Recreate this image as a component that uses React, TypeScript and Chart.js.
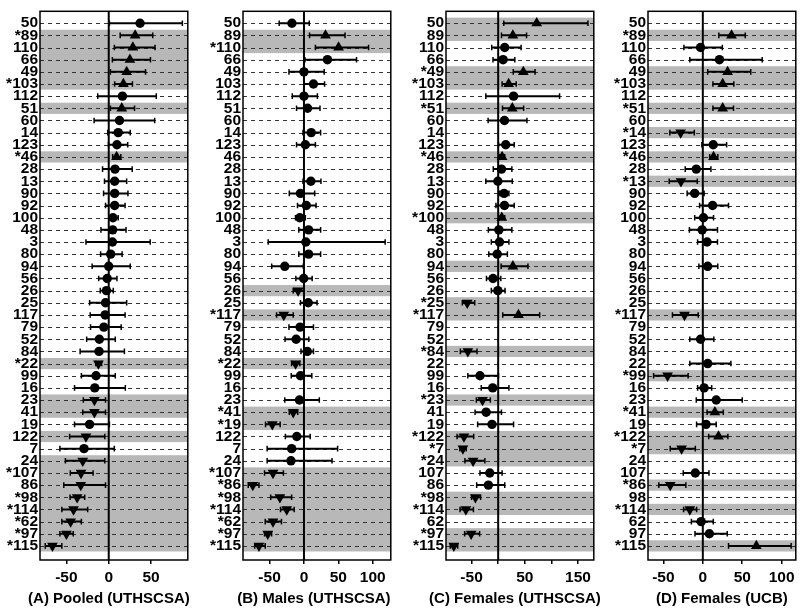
import React, { useEffect, useRef } from "react";
import { Chart, registerables } from "chart.js";
Chart.register(...registerables);

const categories = ["50","89","110","66","49","103","112","51","60","14","123","46","28","13","90","92","100","48","3","80","94","56","26","25","117","79","52","84","22","99","16","23","41","19","122","7","24","107","86","98","114","62","97","115"];

// (A) Pooled (UTHSCSA)
const pooledEst = [37,31.2,28.5,25,21.2,17.3,16.2,15.4,12.7,11.2,9.7,9.3,7.4,7,7,7,5,4.6,4.3,2.3,0,-1.8,-2.7,-3.8,-4.2,-5.8,-11.1,-11.5,-12.2,-15,-16.5,-16.9,-16.9,-22.6,-26.9,-29.2,-30.7,-32.7,-33,-37.3,-41.6,-45,-50,-66.5];
const pooledLo = [0.8,13.5,6.6,4.3,2,7,-13,2,-17.3,-1.2,-0.3,4.6,-7.3,-5,-6.1,-3.8,2,-9.2,-26.9,-9.6,-19.6,-11.9,-10,-22.6,-21.9,-21.5,-26.1,-33.8,-15.4,-32.3,-40.4,-30,-30.7,-40.4,-46.2,-57.7,-51.2,-45.4,-53.1,-45.7,-55.4,-55.4,-57.7,-75];
const pooledHi = [87,52,54.7,49.3,43.5,28,56.2,30.5,54.3,25.4,22.4,14.3,27.7,21.2,22.7,19.3,11.2,20.4,49,15.8,25.4,9.7,5.4,21.2,19.3,14.7,7.7,18.5,-8.4,7.7,19.6,-3.8,-3.8,0.8,-4.6,6.6,-4.6,-18.5,-3.8,-28.4,-24.9,-32.3,-41.9,-55.4];
const pooledSig = ["89","110","66","49","103","51","46","22","23","41","122","24","107","86","98","114","62","97","115"];
const pooledStar = ["89","103","46","22","107","98","114","62","97","115"];
const pooledTicks = [-50, 0, 50];
const pooledTickLabels = ["-50", "0", "50"];

// (B) Males (UTHSCSA)
const malesEst = [-17.5,31.3,50.3,34.1,0,13.8,0,5.3,null,10.5,2,null,null,10,-5.1,3.4,-6.1,6.7,2.8,6.7,-27.9,-0.4,-8.5,6.2,-29.3,-5.7,-11.4,4.8,-12.2,-5.1,null,-6.6,-15.6,-46,-10.4,-17.9,-18.9,-45,-74.4,-35,-25,-45,-52.6,-65.4];
const malesLo = [-36,8.1,16.6,1.4,-21.8,0,-17,-10.8,null,-1.4,-10.8,null,null,-1.4,-21.3,-9.4,-12.3,-7.5,-52,-7.5,-46.9,-11.8,-15.6,-5.1,-39.8,-21.8,-27.5,-4.3,-18,-18.5,null,-27.9,-21.3,-55.9,-27,-53.5,-53.5,-57.3,-81,-48.4,-34.1,-56.3,-57.3,-71.6];
const malesHi = [7.7,59.7,93.9,76.4,29.4,29.9,19.5,23.3,null,24.2,16.6,null,null,24.7,15.6,17.6,2,24.2,118,24.2,-0.9,11.9,-0.4,19,-15.6,13.8,7.1,13.8,-6,11.4,null,22.3,-9,-34.6,9.1,48.9,40.8,-29.9,-65.4,-17.9,-14.2,-32.7,-47,-56.3];
const malesSig = ["89","110","26","117","22","41","19","107","86","98","114","62","97","115"];
const malesStar = ["110","117","22","41","19","107","86","98","114","62","97","115"];
const malesTicks = [-50, 0, 50, 100];
const malesTickLabels = ["-50", "0", "50", "100"];

// (C) Females (UTHSCSA)
const femUtEst = [72.4,27.6,12.3,9.2,47.2,19.7,28.9,26.5,11.8,null,14.2,7.4,6.2,-0.6,11,11.8,6.8,1.3,2.5,-1.8,27.6,-9.7,-0.6,-58.1,38.1,null,null,-57,null,-34.2,-10.3,-29.4,-22.6,-11.6,-64.3,-66.2,-47.1,-15.8,-18.4,-42.8,-60.7,null,-50.7,-83.3];
const femUtLo = [10.5,6.2,-12.1,-9.7,28.3,7.4,-23.2,8.1,-18.9,null,0.6,3,-9.2,-23.2,3.1,-4.2,1.3,-18.4,-12.9,-17.6,5.5,-22,-12.9,-67.3,8.6,null,null,-71,null,-57,-31.8,-41,-43.4,-38.6,-77.2,-72,-62.5,-34.2,-40.4,-50,-71.7,null,-63,-90];
const femUtHi = [168.6,53.3,43,31.3,69.3,33.8,115.3,47.8,54,null,30.1,12.3,25.7,26.5,20.2,30.1,12.3,25.7,20.2,17.3,55.9,5,12.9,-44.1,77.9,null,null,-39.7,null,0.6,20.2,-14.7,6.2,28.9,-46,-60,-25,7.4,12.3,-33,-46.5,null,-34.9,-76];
const femUtSig = ["50","89","49","103","51","46","100","94","25","117","84","23","122","7","24","98","114","97","115"];
const femUtStar = ["49","103","51","46","100","25","117","84","23","122","7","24","98","114","97","115"];
const femUtTicks = [-50, 0, 50, 100, 150];
const femUtTickLabels = ["-50", "", "50", "", "150"];

// (D) Females (UCB)
const femUcbEst = [null,36.4,-2.9,21.1,31.4,25.2,null,25.2,null,-28.1,13.2,13.6,-8.3,-27.7,-10.3,12.4,0.8,-0.8,5.4,null,6.2,null,null,null,-23.2,null,-2.9,null,6.2,-44.7,1.6,17,15.3,4.1,19.9,-26.9,null,-9.5,-41.3,null,-16.5,-2.1,8.3,67.9];
const femUcbLo = [null,20.3,-24,-16.5,6.2,12.8,null,12.8,null,-41.8,-1.2,8.7,-22.3,-42.6,-19.9,-4.1,-10.3,-17,-6.6,null,-5,null,null,null,-38.5,null,-16.5,null,-16.5,-62.4,-6.6,-8.3,5.4,-7.9,7.4,-41.3,null,-24.8,-55.8,null,-24.4,-14.5,-9.9,32.6];
const femUcbHi = [null,53.8,24.8,75.3,60.8,39.3,null,38.9,null,-10.8,30.2,19,10.3,-7,1.6,32.6,13.6,18.6,18.6,null,19,null,null,null,-5.8,null,14,null,35.6,-18.6,11.2,50,26,17,31.8,-9.5,null,7.8,-21.5,null,-7.8,13.3,31,112];
const femUcbSig = ["89","49","103","51","14","46","13","117","99","41","122","7","86","114","115"];
const femUcbStar = ["89","103","51","14","46","13","117","99","41","122","7","86","114","115"];
const femUcbTicks = [-50, 0, 50, 100];
const femUcbTickLabels = ["-50", "0", "50", "100"];

const BAND = "#b8b8b8";
const FONT = "'Liberation Sans', Arial, sans-serif";

type PanelCfg = {
  title: string;
  est: (number | null)[];
  lo: (number | null)[];
  hi: (number | null)[];
  sig: string[];
  star: string[];
  ticks: number[];
  tickLabels: string[];
  xMin: number;
  xMax: number;
  canvasLeft: number;
  titleShift: number;
};

const panels: PanelCfg[] = [
  { title: "(A) Pooled (UTHSCSA)", est: pooledEst, lo: pooledLo, hi: pooledHi, sig: pooledSig, star: pooledStar, ticks: pooledTicks, tickLabels: pooledTickLabels, xMin: -81.2, xMax: 93.4, canvasLeft: 0, titleShift: -5 },
  { title: "(B) Males (UTHSCSA)", est: malesEst, lo: malesLo, hi: malesHi, sig: malesSig, star: malesStar, ticks: malesTicks, tickLabels: malesTickLabels, xMin: -88.6, xMax: 126.2, canvasLeft: 203, titleShift: -3 },
  { title: "(C) Females (UTHSCSA)", est: femUtEst, lo: femUtLo, hi: femUtHi, sig: femUtSig, star: femUtStar, ticks: femUtTicks, tickLabels: femUtTickLabels, xMin: -98, xMax: 179.6, canvasLeft: 406, titleShift: -5 },
  { title: "(D) Females (UCB)", est: femUcbEst, lo: femUcbLo, hi: femUcbHi, sig: femUcbSig, star: femUcbStar, ticks: femUcbTicks, tickLabels: femUcbTickLabels, xMin: -69.5, xMax: 117.9, canvasLeft: 608, titleShift: 0 },
];

const CANVAS_W = 194;
const CANVAS_H = 608;

function Panel({ cfg }: { cfg: PanelCfg }) {
  const ref = useRef<HTMLCanvasElement>(null);
  useEffect(() => {
    const canvas = ref.current!;
    const labels = categories.map((c) => (cfg.star.includes(c) ? "*" : "") + c);
    const points: any[] = [];
    categories.forEach((c, i) => {
      const v = cfg.est[i];
      if (v === null || v === undefined) return;
      const s = cfg.sig.includes(c) ? (v >= 0 ? "up" : "down") : "circle";
      points.push({ x: v, y: i, s });
    });

    const plugin = {
      id: "forestDecor",
      beforeDraw(chart: any) {
        const { ctx, chartArea: a } = chart;
        const x = chart.scales.x, y = chart.scales.y;
        ctx.save();
        ctx.fillStyle = BAND;
        let i = 0;
        while (i < categories.length) {
          if (cfg.sig.includes(categories[i])) {
            let j = i;
            while (j + 1 < categories.length && cfg.sig.includes(categories[j + 1])) j++;
            const t = y.getPixelForValue(i - 0.46);
            const b = y.getPixelForValue(j + 0.46);
            ctx.fillRect(a.left, t, a.right - a.left, b - t);
            i = j + 1;
          } else i++;
        }
        ctx.setLineDash([4, 4]);
        ctx.strokeStyle = "#333";
        ctx.lineWidth = 1;
        categories.forEach((_, k) => {
          const py = Math.round(y.getPixelForValue(k)) + 0.5;
          ctx.beginPath();
          ctx.moveTo(a.left, py);
          ctx.lineTo(a.right, py);
          ctx.stroke();
        });
        ctx.setLineDash([]);
        const zx = x.getPixelForValue(0);
        ctx.strokeStyle = "#000";
        ctx.lineWidth = 2;
        ctx.beginPath();
        ctx.moveTo(zx, a.top);
        ctx.lineTo(zx, a.bottom);
        ctx.stroke();
        ctx.restore();
      },
      beforeDatasetsDraw(chart: any) {
        const { ctx, chartArea: a } = chart;
        const x = chart.scales.x, y = chart.scales.y;
        ctx.save();
        ctx.beginPath();
        ctx.rect(a.left, a.top, a.right - a.left, a.bottom - a.top);
        ctx.clip();
        ctx.strokeStyle = "#000";
        categories.forEach((_, k) => {
          const lo = cfg.lo[k], hi = cfg.hi[k];
          if (lo === null || hi === null || lo === undefined || hi === undefined) return;
          const x1 = x.getPixelForValue(lo), x2 = x.getPixelForValue(hi);
          const py = y.getPixelForValue(k);
          ctx.lineWidth = 2;
          ctx.beginPath();
          ctx.moveTo(x1, py);
          ctx.lineTo(x2, py);
          ctx.stroke();
          ctx.lineWidth = 1.5;
          ctx.beginPath();
          ctx.moveTo(x1, py - 2.8);
          ctx.lineTo(x1, py + 2.8);
          ctx.moveTo(x2, py - 2.8);
          ctx.lineTo(x2, py + 2.8);
          ctx.stroke();
        });
        ctx.restore();
      },
      afterDraw(chart: any) {
        const { ctx, chartArea: a } = chart;
        ctx.save();
        ctx.strokeStyle = "#000";
        ctx.lineWidth = 1.5;
        ctx.strokeRect(a.left, a.top, a.right - a.left, a.bottom - a.top);
        ctx.fillStyle = "#000";
        ctx.font = `bold 15px ${FONT}`;
        ctx.textAlign = "center";
        ctx.textBaseline = "middle";
        ctx.fillText(cfg.title, (a.left + a.right) / 2 + cfg.titleShift, 599);
        ctx.restore();
      },
    };

    const chart = new Chart(canvas, {
      type: "scatter",
      data: {
        datasets: [
          {
            data: points,
            pointStyle: (c: any) => (c.raw && c.raw.s !== "circle" ? "triangle" : "circle"),
            pointRotation: (c: any) => (c.raw && c.raw.s === "down" ? 180 : 0),
            pointRadius: (c: any) => (c.raw && c.raw.s !== "circle" ? 6.2 : 4.7),
            pointBackgroundColor: "#000",
            pointBorderColor: "#000",
            pointBorderWidth: 0,
            showLine: false,
          } as any,
        ],
      },
      options: {
        responsive: false,
        animation: false,
        devicePixelRatio: 1,
        layout: { padding: { left: 0, right: 3, top: 1, bottom: 0 } },
        plugins: { legend: { display: false }, tooltip: { enabled: false }, title: { display: false } },
        events: [],
        scales: {
          x: {
            type: "linear",
            position: "bottom",
            min: cfg.xMin,
            max: cfg.xMax,
            afterBuildTicks: (s: any) => {
              s.ticks = cfg.ticks.map((v) => ({ value: v }));
            },
            afterFit: (s: any) => {
              s.height = 48;
            },
            ticks: {
              autoSkip: false,
              maxRotation: 0,
              padding: 4,
              color: "#000",
              font: { family: FONT, size: 15.5, weight: "bold" },
              callback: (v: any) => {
                const idx = cfg.ticks.indexOf(Number(v));
                return idx >= 0 ? cfg.tickLabels[idx] : "";
              },
            },
            grid: { drawOnChartArea: false, drawTicks: true, tickLength: 4, color: "#000", lineWidth: 1.5 },
            border: { display: false },
          },
          y: {
            type: "linear",
            reverse: true,
            min: -0.98,
            max: 44.16,
            afterBuildTicks: (s: any) => {
              s.ticks = categories.map((_, k) => ({ value: k }));
            },
            afterFit: (s: any) => {
              s.width = 40;
            },
            ticks: {
              autoSkip: false,
              padding: 2,
              color: "#000",
              font: { family: FONT, size: 15.5, weight: "bold" },
              callback: (v: any) => labels[Number(v)] ?? "",
            },
            grid: { display: false, drawTicks: false },
            border: { display: false },
          },
        },
      },
      plugins: [plugin],
    } as any);
    return () => chart.destroy();
  }, [cfg]);
  return (
    <canvas
      ref={ref}
      width={CANVAS_W}
      height={CANVAS_H}
      style={{ position: "absolute", left: cfg.canvasLeft, top: 0, width: CANVAS_W, height: CANVAS_H }}
    />
  );
}

export default function App() {
  return (
    <div
      style={{
        position: "fixed",
        left: 0,
        top: 0,
        width: 800,
        height: 608,
        overflow: "hidden",
        background: "#fff",
      }}
    >
      {panels.map((p) => (
        <Panel key={p.title} cfg={p} />
      ))}
    </div>
  );
}
